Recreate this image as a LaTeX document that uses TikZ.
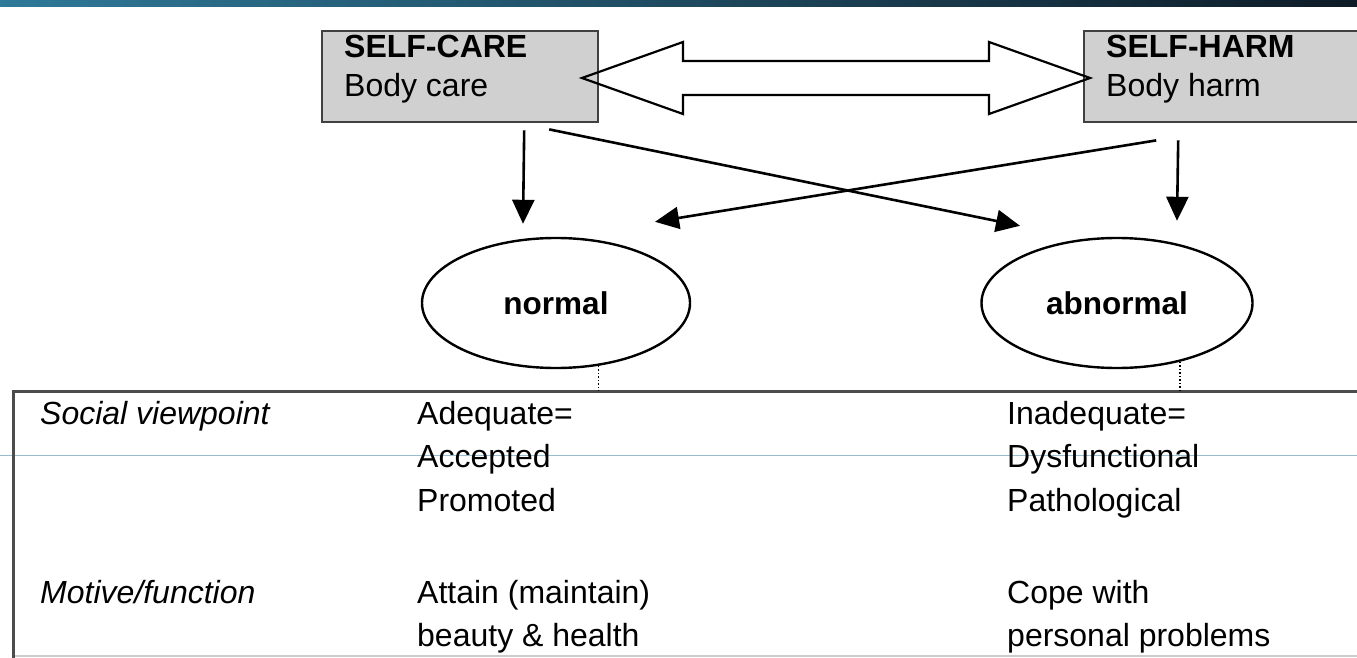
\documentclass[tikz,border=0pt]{standalone}
\usepackage{fontspec}
\setmainfont{Liberation Sans}
\usetikzlibrary{arrows.meta,shapes.geometric}
\definecolor{boxgray}{RGB}{208,208,208}
\definecolor{barleft}{RGB}{47,121,153}
\definecolor{barright}{RGB}{14,27,38}
\definecolor{guideline}{RGB}{155,188,204}
\begin{document}
\begin{tikzpicture}
[x=1pt,y=-1pt,font=\fontsize{32}{39}\selectfont,
  boxdecorate/.style={draw=black!75,line width=2.4pt,fill=boxgray,anchor=north west,
    minimum width=276pt,minimum height=91pt,inner sep=0pt},%
  ellipsedecorate/.style={ellipse,draw,line width=2.4pt,inner sep=0pt,
    minimum width=268pt,minimum height=130pt,font=\fontsize{31.5}{39}\selectfont\bfseries},%
  arrowdecorate/.style={-{Triangle[length=24pt,width=22pt]},line width=2.6pt},%
  celldecorate/.style={anchor=base west,inner sep=0pt}]
\useasboundingbox (0,0) rectangle (1357,658);
%% title bar
\shade[left color=barleft,right color=barright] (0,0) rectangle (1357,7);
%% boxes and their texts
\node (care) at (321,30) [boxdecorate] {};
\node (harm) at (1083,30) [boxdecorate] {};
\foreach \nodename in {care, harm} {
  \coordinate (\nodename-text) at ([xshift=23pt]\nodename.north west);
}
\node (caretitle) [celldecorate] at ([yshift=-28pt]care-text) {\bfseries SELF-CARE};
\node (carebody) [celldecorate] at ([yshift=-67pt]care-text) {Body care};
\node (harmtitle) [celldecorate] at ([yshift=-28pt]harm-text) {\bfseries SELF-HARM};
\node (harmbody) [celldecorate] at ([yshift=-67pt]harm-text) {Body harm};
%% two-headed arrow between the boxes
\draw[line width=2.2pt,line join=miter]
  (582,78) -- (683,42) -- (683,61) -- (989,61) -- (989,42) -- (1090,78)
  -- (989,114) -- (989,95) -- (683,95) -- (683,114) -- cycle;
%% ellipses
\node (normal) at (556,303) [ellipsedecorate] {normal};
\node (abnormal) at (1117,303) [ellipsedecorate,minimum width=271pt] {abnormal};
%% edges
\draw[arrowdecorate] ([xshift=64pt,yshift=-7pt]care.south)
  -- ([xshift=-33pt,yshift=13pt]normal.north);
\draw[arrowdecorate] ([xshift=89pt,yshift=-6pt]care.south)
  -- ([xshift=-97pt,yshift=11pt]abnormal.north);
\draw[arrowdecorate] ([xshift=-44pt,yshift=-17pt]harm.south)
  -- ([xshift=60pt,yshift=16pt]abnormal.north);
\draw[arrowdecorate] ([xshift=-66pt,yshift=-17pt]harm.south)
  -- ([xshift=99pt,yshift=15pt]normal.north);
%% table frame
\coordinate (tabletop) at (13,391);
\draw[guideline,line width=1pt] (0,455) -- (1357,455);
\draw[black!20,line width=1.5pt] (13,656) -- (1357,656);
\draw[black!70,line width=3pt] (1357,391) -- (tabletop) -- (13,658);
\draw[dotted,line width=1.5pt] (normal.-56) -- (normal.-56 |- tabletop);
\draw[dotted,line width=1.5pt] (abnormal.-43) -- (abnormal.-43 |- tabletop);
%% table texts
\node (social) [celldecorate] at (40,424) {\itshape Social viewpoint};
\node (motive) [celldecorate] at (40,603) {\itshape Motive/function};
\foreach \nodename/\x/\y/\celltext in {adequate/417/424/Adequate=,
  accepted/417/467/Accepted, promoted/417/511/Promoted,
  inadequate/1007/424/Inadequate=, dysfunctional/1007/467/Dysfunctional,
  pathological/1007/511/Pathological,
  attain/417/603/Attain (maintain), beauty/417/646/beauty \& health,
  cope/1007/603/Cope with, personal/1007/646/personal problems} {
  \node (\nodename) [celldecorate] at (\x,\y) {\celltext};
}
\end{tikzpicture}
\end{document}
